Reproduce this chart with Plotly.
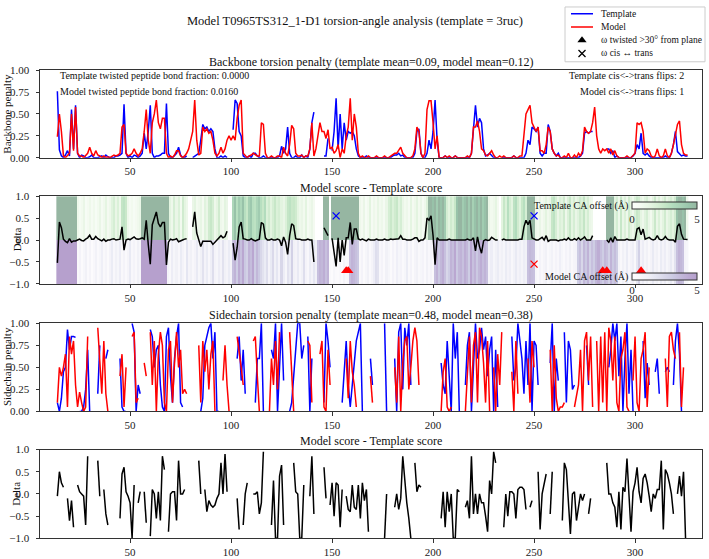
import plotly.graph_objects as go

# ---------------- data ----------------
residues = list(range(14, 327))
x_ticks = [50, 100, 150, 200, 250, 300]

bb_template = [
    0.76, 0.09, 0.02, 0.00, 0.03, 0.08, 0.02, 0.55, 0.10, 0.60,
    0.05, 0.00, 0.03, 0.02, 0.00, 0.00, 0.01, 0.03, 0.00, 0.00,
    0.00, 0.01, 0.02, 0.00, 0.03, 0.01, 0.00, 0.00, 0.00, 0.02,
    0.02, 0.03, 0.05, 0.61, 0.05, 0.00, 0.02, 0.00, 0.03, 0.02,
    0.00, 0.02, 0.05, 0.28, 0.10, 0.30, 0.60, 0.05, 0.00, 0.02,
    0.02, 0.03, 0.05, 0.05, 0.62, 0.05, 0.00, 0.00, 0.02, 0.05,
    0.12, 0.03, 0.00, 0.00, 0.02, None, None, 0.00, 0.02, 0.04,
    0.05, 0.20, 0.38, 0.33, 0.35, 0.30, 0.33, 0.30, 0.10, 0.00,
    0.00, 0.02, 0.00, 0.02, 0.00, None, None, 0.32, 0.66, 0.62,
    0.30, 0.25, 0.02, 0.00, 0.00, 0.02, 0.00, 0.05, 0.05, 0.02,
    0.00, 0.00, 0.02, 0.00, 0.00, 0.00, 0.00, 0.00, 0.00, 0.00,
    0.02, 0.13, 0.05, 0.10, 0.35, 0.05, 0.00, 0.00, 0.02, 0.00,
    0.00, 0.03, 0.00, 0.02, 0.00, 0.10, 0.40, 0.52, None, None,
    None, None, 0.02, 0.02, 0.22, None, 0.08, 0.30, 0.68, 0.10,
    0.50, 0.10, 0.40, 0.20, 0.30, 0.28, 0.30, 0.25, 0.10, 0.02,
    0.00, 0.00, 0.00, 0.02, 0.00, 0.00, 0.00, 0.00, 0.00, 0.00,
    0.00, 0.00, 0.00, 0.00, 0.00, 0.00, 0.02, 0.03, 0.03, 0.05,
    0.02, 0.03, 0.00, 0.00, 0.00, 0.00, 0.00, 0.05, 0.30, 0.33,
    0.05, 0.00, 0.00, 0.05, 0.20, 0.10, 0.30, 0.66, 0.20, 0.00,
    0.00, 0.00, 0.02, 0.00, 0.00, 0.00, 0.00, 0.02, 0.00, 0.00,
    0.00, 0.00, 0.00, 0.00, 0.00, 0.05, 0.30, 0.60, 0.35, 0.45,
    0.40, 0.10, 0.02, 0.03, 0.05, 0.02, 0.00, 0.00, 0.00, None,
    0.00, 0.00, 0.00, 0.00, 0.00, 0.00, 0.02, 0.00, 0.00, 0.00,
    0.00, 0.00, 0.05, 0.20, 0.15, 0.35, 0.33, 0.30, 0.35, 0.05,
    0.02, 0.05, 0.05, 0.38, 0.30, 0.10, 0.05, 0.02, 0.05, 0.00,
    0.00, 0.00, 0.00, 0.00, 0.00, 0.00, 0.00, 0.00, 0.00, 0.02,
    0.05, 0.28, 0.30, 0.28, 0.30, 0.30, None, None, None, None,
    None, None, 0.10, 0.10, 0.05, 0.08, 0.00, 0.02, 0.00, 0.00,
    0.00, 0.00, 0.00, 0.00, 0.00, 0.02, 0.05, 0.15, 0.10, 0.28,
    0.05, 0.03, 0.05, 0.02, 0.00, 0.00, 0.00, 0.00, 0.00, 0.00,
    0.00, 0.02, 0.00, 0.00, 0.05, 0.15, 0.30, 0.07, 0.05, 0.02,
    0.03, 0.02, 0.02,
]

bb_model = [
    0.24, 0.50, 0.30, 0.02, 0.00, 0.02, 0.05, 0.50, 0.08, 0.58,
    0.05, 0.02, 0.02, 0.00, 0.02, 0.05, 0.12, 0.05, 0.02, 0.08,
    0.03, 0.02, 0.00, 0.02, 0.00, 0.01, 0.00, 0.02, 0.03, 0.02,
    0.03, 0.05, 0.35, 0.38, 0.05, 0.02, 0.03, 0.05, 0.10, 0.05,
    0.02, 0.05, 0.10, 0.30, 0.55, 0.20, 0.05, 0.40, 0.50, 0.66,
    0.40, 0.33, 0.45, 0.45, 0.05, 0.00, 0.02, 0.00, 0.03, 0.08,
    0.08, 0.02, 0.00, 0.02, 0.05, 0.10, 0.20, 0.30, 0.66, 0.20,
    0.03, 0.05, 0.35, 0.30, 0.33, 0.28, 0.30, 0.20, 0.05, 0.02,
    0.05, 0.12, 0.05, 0.10, 0.20, 0.25, 0.20, 0.25, 0.20, 0.45,
    0.60, 0.66, 0.05, 0.02, 0.00, 0.02, 0.03, 0.05, 0.03, 0.02,
    0.02, 0.40, 0.38, 0.05, 0.00, 0.00, 0.02, 0.00, 0.00, 0.02,
    0.02, 0.00, 0.12, 0.05, 0.02, 0.15, 0.37, 0.33, 0.05, 0.02,
    0.02, 0.03, 0.00, 0.02, 0.02, 0.10, 0.40, 0.02, 0.10, 0.25,
    0.40, 0.30, 0.30, 0.22, 0.32, 0.10, 0.12, 0.05, 0.08, 0.15,
    0.00, 0.10, 0.05, 0.25, 0.35, 0.68, 0.20, 0.50, 0.35, 0.05,
    0.00, 0.02, 0.00, 0.00, 0.02, 0.00, 0.00, 0.00, 0.02, 0.00,
    0.00, 0.00, 0.02, 0.00, 0.00, 0.02, 0.03, 0.05, 0.05, 0.08,
    0.12, 0.05, 0.02, 0.00, 0.00, 0.00, 0.02, 0.10, 0.35, 0.30,
    0.05, 0.00, 0.05, 0.55, 0.65, 0.65, 0.40, 0.10, 0.25, 0.00,
    0.00, 0.00, 0.02, 0.00, 0.02, 0.00, 0.00, 0.02, 0.00, 0.00,
    0.00, 0.00, 0.00, 0.02, 0.00, 0.05, 0.35, 0.35, 0.42, 0.30,
    0.10, 0.08, 0.03, 0.02, 0.05, 0.08, 0.03, 0.00, 0.00, 0.02,
    0.00, 0.02, 0.00, 0.00, 0.00, 0.00, 0.02, 0.00, 0.00, 0.02,
    0.02, 0.30, 0.50, 0.55, 0.60, 0.40, 0.35, 0.30, 0.35, 0.08,
    0.08, 0.05, 0.15, 0.35, 0.30, 0.10, 0.05, 0.02, 0.03, 0.00,
    0.00, 0.02, 0.00, 0.05, 0.00, 0.00, 0.03, 0.00, 0.05, 0.02,
    0.08, 0.35, 0.30, 0.28, 0.30, 0.40, 0.58, 0.25, 0.10, 0.05,
    0.10, 0.08, 0.10, 0.05, 0.10, 0.03, 0.08, 0.02, 0.00, 0.00,
    0.00, 0.00, 0.02, 0.00, 0.00, 0.02, 0.05, 0.40, 0.38, 0.40,
    0.30, 0.05, 0.10, 0.08, 0.02, 0.00, 0.02, 0.10, 0.02, 0.00,
    0.02, 0.10, 0.02, 0.00, 0.05, 0.15, 0.25, 0.38, 0.42, 0.15,
    0.05, 0.03, 0.03,
]

ca_offset_template = [
    5, 5, 5, 5, 5, 5, 5, 5, 5, 5,
    1.0, 0.6, 0.8, 1.2, 0.5, 0.7, 1.0, 0.6, 0.9, 0.5,
    0.8, 1.2, 0.6, 0.9, 1.4, 0.7, 1.0, 1.6, 2.0, 1.2,
    1.8, 1.0, 2.6, 2.8, 2.4, 1.0, 0.6, 0.8, 0.5, 0.7,
    0.9, 1.2, 5, 5, 5, 5, 5, 5, 5, 5,
    5, 5, 5, 5, 5, 5, 1.5, 1.0, 2.0, 1.2,
    1.8, 0.8, 2.2, 1.4, 1.0, None, None, 1.2, 1.5, 0.8,
    1.0, 1.3, 0.7, 1.6, 1.2, 2.2, 2.5, 2.0, 1.0, 1.4,
    2.2, 1.0, 0.8, 1.5, 1.2, None, None, 3.5, 4.5, 3.0,
    4.0, 3.5, 4.5, 3.0, 2.5, 3.8, 4.2, 3.0, 2.8, 3.5,
    4.0, 3.0, 2.5, 3.2, 1.8, 2.2, 1.5, 2.0, 2.5, 1.8,
    2.0, 1.5, 1.2, 1.8, 2.6, 2.8, 2.4, 2.5, 2.2, 1.4,
    1.0, 1.2, 0.8, 1.5, 0.6, 0.9, 1.2, 0.7, None, None,
    None, None, 5, 5, 5, None, 5, 5, 5, 5,
    5, 5, 5, 5, 5, 5, 5, 5, 5, 5,
    1.0, 0.7, 1.2, 0.5, 0.8, 1.5, 0.6, 1.0, 0.7, 1.3,
    0.8, 1.0, 0.6, 1.2, 2.0, 2.4, 1.8, 2.2, 2.5, 1.6,
    2.0, 1.2, 0.8, 1.0, 0.6, 1.4, 0.7, 1.0, 1.5, 0.8,
    1.2, 0.6, 1.0, 1.8, 5, 5, 4.5, 5, 4.0, 5,
    4.5, 5, 4.0, 2.0, 1.5, 2.2, 1.8, 2.5, 4.5, 5,
    5, 4.0, 4.5, 5, 4.0, 5, 3.8, 4.5, 5, 4.2,
    5, 4.0, 4.5, 5, 1.2, 0.8, 1.0, 1.4, 0.7, None,
    1.5, 2.5, 1.8, 3.0, 2.0, 1.5, 2.8, 3.2, 2.2, 1.6,
    2.5, 3.0, 2.0, 5, 5, 5, 5, 1.0, 0.8, 1.2,
    0.7, 1.0, 1.5, 0.9, 1.2, 2.5, 2.8, 2.0, 1.2, 1.8,
    1.5, 2.2, 1.0, 1.8, 2.5, 1.4, 2.0, 1.2, 1.6, 2.2,
    1.8, 2.6, 1.5, 2.0, 1.2, 1.0, None, None, None, None,
    None, None, 5, 5, 5, 5, 1.5, 2.0, 1.0, 2.5,
    1.2, 1.8, 1.0, 2.2, 1.5, 1.0, 1.8, 2.5, 2.2, 1.4,
    1.0, 1.6, 2.0, 1.2, 0.8, 1.5, 2.4, 1.2, 1.8, 1.0,
    1.5, 2.2, 1.2, 1.6, 2.0, 1.5, 2.2, 4.5, 5, 5,
    4.5, 5, 1.0,
]

ca_offset_model = [
    5, 5, 5, 5, 5, 5, 5, 5, 5, 5,
    0.6, 1.0, 0.4, 0.8, 1.2, 0.5, 0.9, 0.3, 0.7, 1.1,
    0.5, 0.8, 1.3, 0.6, 0.9, 0.4, 1.0, 1.5, 0.7, 1.2,
    0.8, 1.4, 0.6, 1.0, 0.5, 0.9, 1.6, 0.7, 1.0, 0.6,
    1.2, 0.8, 5, 5, 5, 5, 5, 5, 5, 5,
    5, 5, 5, 5, 5, 1.0, 0.6, 1.4, 0.8, 1.2,
    0.7, 1.5, 1.0, 0.6, 1.8, 0.9, 1.2, 0.7, 1.0, 1.6,
    0.8, 1.2, 2.0, 1.0, 1.5, 0.7, 1.3, 2.2, 1.0, 0.8,
    1.4, 1.0, 2.0, 1.2, 0.9, 1.5, 1.0, 3.5, 4.0, 3.0,
    4.2, 3.5, 4.5, 3.2, 2.8, 4.0, 3.6, 4.5, 3.0, 3.8,
    3.2, 2.5, 2.0, 1.5, 2.2, 1.0, 1.6, 2.4, 1.2, 1.8,
    1.0, 2.5, 1.4, 0.8, 2.0, 1.5, 2.8, 1.2, 1.0, 1.6,
    0.8, 1.2, 2.2, 1.0, 0.7, 1.5, 1.0, 1.8, 1.2, 3.5,
    4.0, 3.8, 4.2, 3.5, 4.0, 0.6, 0.3, 0.8, 0.5, 0.4,
    0.7, 0.3, 0.9, 0.5, 0.6, 3.5, 4.0, 3.8, 3.5, 3.2,
    0.6, 1.0, 0.4, 0.8, 1.2, 0.5, 0.9, 1.4, 2.2, 2.0,
    0.7, 1.0, 0.5, 1.2, 0.8, 0.4, 1.0, 0.6, 1.3, 0.8,
    1.0, 0.5, 0.8, 1.5, 0.6, 1.0, 0.4, 0.9, 1.2, 0.6,
    0.8, 1.0, 0.5, 1.2, 0.7, 1.0, 0.6, 3.5, 4.0, 3.2,
    3.8, 4.2, 3.5, 2.5, 3.0, 4.0, 3.6, 4.5, 3.2, 3.8,
    4.0, 3.5, 4.2, 3.8, 3.0, 4.5, 3.5, 4.0, 3.2, 3.8,
    4.2, 3.6, 4.0, 3.5, 1.0, 1.4, 0.8, 1.2, 1.5, 0.9,
    1.2, 0.8, 1.5, 1.0, 1.3, 0.7, 1.1, 1.6, 1.0, 1.3,
    0.9, 1.4, 1.2, 3.5, 3.8, 3.6, 3.5, 0.8, 0.5, 1.0,
    0.6, 0.9, 1.2, 0.5, 0.8, 1.1, 0.6, 1.0, 0.7, 1.3,
    0.8, 0.5, 1.0, 0.7, 1.2, 0.6, 0.9, 1.0, 3.0, 3.5,
    2.5, 3.8, 3.2, 4.0, 2.8, 3.5, 3.0, 3.8, 4.2, 3.5,
    3.0, 3.8, 3.5, 2.8, 4.0, 3.2, 3.6, 3.0, 1.0, 0.6,
    1.2, 0.8, 1.5, 0.7, 1.0, 1.3, 0.6, 1.8, 2.8, 1.0,
    1.4, 0.8, 1.2, 0.6, 1.0, 1.6, 0.9, 1.2, 0.7, 1.5,
    1.0, 1.4, 0.8, 1.2, 1.6, 1.0, 2.0, 3.5, 4.0, 3.8,
    3.5, 1.0, 0.8,
]

sc_template = [
    0.10, 0.00, 0.15, 0.45, 0.50, 0.93, 0.70, 0.85, 0.85, 0.84,
    None, 0.00, 0.00, 0.05, 0.25, 0.70, 0.00, None, None, None,
    0.20, 0.75, None, None, 0.60, 0.70, None, None, None, None,
    None, 0.60, 0.05, 0.00, 0.00, None, None, 1.00, 0.90, 0.00,
    0.30, 0.20, None, None, 1.00, None, 0.93, 0.85, 0.50, 0.70,
    0.75, 0.30, 0.05, 0.00, 0.85, 0.95, 0.40, 0.10, 0.60, 0.85,
    1.00, 0.10, 0.05, None, None, None, None, None, None, None,
    None, 0.00, 0.15, 0.75, 0.85, 0.95, 1.00, 0.60, 0.90, 0.00,
    0.00, None, 0.60, None, None, None, None, None, None, 0.60,
    0.85, 0.35, 0.70, 0.20, None, None, None, None, 0.10, 0.60,
    0.60, 1.00, 0.00, None, None, None, 0.70, 0.60, 1.00, 0.00,
    0.50, 1.00, 0.35, None, None, 0.00, 0.10, 0.40, 0.70, 1.00,
    1.00, 0.60, 0.75, None, 0.85, 0.00, 0.60, None, None, None,
    None, None, 0.10, 1.00, 0.80, 0.50, None, None, None, None,
    None, 0.10, 0.45, 0.80, 0.30, 0.05, 0.30, 0.55, 0.80, 0.90,
    1.00, 0.00, None, None, None, 0.60, 0.30, None, None, None,
    None, None, 1.00, 0.00, None, None, None, 0.60, 0.00, 0.90,
    1.00, 0.25, 0.95, 0.75, 1.00, 0.30, None, None, None, None,
    None, None, None, None, None, None, None, None, None, None,
    0.55, 0.30, 0.20, 0.80, 0.40, 0.00, 1.00, 0.60, 0.90, 0.00,
    None, None, 0.30, 0.75, 0.90, 0.00, 0.50, 1.00, 0.60, 0.70,
    0.95, 0.70, 0.85, 0.40, 0.70, 0.85, 0.00, 0.70, 0.05, None,
    None, None, None, None, None, 0.85, 0.35, 0.50, 1.00, 0.80,
    0.60, 0.20, 0.80, 0.30, 1.00, 0.00, 0.80, 0.75, 0.30, None,
    None, None, None, None, 0.55, 1.00, 0.00, 0.60, 0.35, None,
    None, 0.90, 0.10, 0.80, 0.70, 0.25, 0.30, None, None, None,
    None, None, 0.75, 0.30, None, None, None, None, None, None,
    None, None, None, 0.50, 0.70, 1.00, 0.80, 1.00, 0.40, 0.85,
    0.00, 0.60, 1.00, 0.20, 0.70, 0.00, None, None, None, None,
    0.80, 0.15, 0.55, 0.30, None, None, 0.45, 0.60, 0.20, None,
    None, 0.45, 0.50, 0.45, None, 0.30, 0.80, 1.00, 0.65, 0.00,
    None, None, None,
]

sc_model = [
    0.10, 0.50, 0.40, 0.50, 0.65, 0.05, 0.85, 0.65, 0.80, 0.30,
    0.05, 0.22, 0.10, 0.00, 0.05, 0.85, None, None, None, None,
    0.95, 0.50, 0.20, 0.80, 0.20, 0.00, None, None, None, None,
    None, 0.40, 0.65, 0.05, 0.50, None, None, 0.85, 0.90, 0.10,
    0.15, None, None, 0.55, 0.40, None, 0.90, 0.30, 0.80, 0.00,
    0.65, 0.90, 0.75, 0.10, 0.00, 0.70, 0.80, 0.10, 0.55, 0.90,
    0.50, 0.70, 0.20, 0.25, 0.20, None, None, None, None, None,
    0.75, 0.10, 0.80, 0.45, 0.70, 0.25, 0.65, 0.80, 0.00, None,
    None, None, 0.35, 0.75, 0.30, 0.00, None, None, None, 0.85,
    0.70, 0.50, 0.30, None, None, None, None, 0.80, 0.85, 0.40,
    0.00, None, None, None, None, 0.00, 0.60, 0.30, 0.80, 0.25,
    0.90, None, None, None, None, 0.90, 0.35, 0.00, None, None,
    None, None, None, None, 0.80, 0.75, 0.10, None, None, None,
    0.65, 0.80, 0.05, 0.00, 0.70, 0.30, None, None, None, None,
    None, None, None, 0.60, 0.15, 0.80, 0.45, 0.30, 0.05, None,
    None, None, None, None, None, 0.40, 0.10, None, None, None,
    None, None, None, None, None, None, None, 0.50, 0.10, 0.85,
    0.00, 0.55, 0.80, 0.85, 0.25, 0.50, 0.80, 0.95, 0.80, 0.30,
    None, None, None, None, None, None, None, None, None, None,
    0.00, 0.45, 0.60, 0.05, 0.00, 0.05, None, None, None, None,
    None, None, 0.00, 0.50, 0.85, 0.10, 0.75, 0.90, 0.10, 0.95,
    0.85, 0.55, 0.10, 0.80, 0.00, None, 0.50, 0.00, 0.65, 0.30,
    0.90, None, None, None, None, 0.45, 0.00, 0.80, 0.20, None,
    None, None, None, 0.60, 0.10, 0.80, 0.50, None, None, None,
    None, None, None, None, 0.70, 0.00, 0.75, 0.15, 0.00, 0.05,
    0.05, 0.10, None, None, None, None, 0.05, 0.20, 0.30, 0.70,
    0.00, 0.80, 0.90, 0.35, 0.85, 0.05, None, 0.80, 0.00, 0.85,
    0.10, 0.90, 0.00, 0.95, 0.80, 0.35, 0.85, 0.10, 0.00, 0.60,
    0.70, 0.90, 0.05, 0.00, None, 0.35, 0.85, 0.10, 0.00, 0.60,
    0.70, 0.90, 0.05, 0.50, None, None, None, None, None, None,
    None, 0.60, 0.05, 0.85, 0.90, 0.70, 0.60, None, 0.90, 0.05,
    0.50, None, None,
]

# sidechain delta (model score - template score)
sc_delta = [
    -0.05, 0.50, 0.25, 0.15, None, -0.10, -0.60, -0.15, -0.75, None,
    0.20, 0.05, 0.00, -0.05, -0.70, 0.85, None, None, None, None,
    0.75, -0.05, None, 0.10, -0.45, -0.70, None, None, None, None,
    None, -0.55, 0.45, 0.60, 0.05, -0.05, -0.20, -1.00, 0.20, None,
    -0.20, 0.05, None, 0.05, -0.65, None, -0.95, 0.10, 0.00, -0.55,
    0.05, -0.60, 0.85, 0.55, None, -0.85, 0.00, 0.05, 0.05, -0.60,
    0.75, 0.00, 0.00, 0.10, None, None, None, None, None, None,
    0.75, 0.00, None, 0.10, -0.40, -0.15, -0.25, -0.30, -0.25, -0.10,
    0.00, 0.70, 0.00, 0.90, 0.05, None, None, None, None, -0.10,
    -0.80, None, -0.70, 0.00, 0.25, None, None, 0.00, 0.00, 0.05,
    -0.45, -0.20, 0.95, None, None, None, -0.70, 0.30, -1.00, -1.00,
    0.40, 0.65, -0.70, None, None, None, None, 0.70, 0.05, 0.00,
    -1.00, -1.00, 0.20, None, None, -0.05, 0.85, -0.45, None, None,
    None, None, 0.60, -0.10, None, -0.25, 0.25, -0.50, 0.25, 0.20,
    -0.75, 0.10, None, -0.05, -0.35, -0.40, 0.20, -0.30, -0.35, 0.20,
    -0.55, 0.25, -0.15, 0.10, -0.85, None, None, None, None, None,
    None, None, -1.00, 0.00, None, None, None, -0.30, 0.00, -0.35,
    -0.10, 0.85, 0.30, -0.20, -0.55, -1.00, None, 0.70, 0.05, 0.20,
    0.15, None, None, None, None, None, None, None, None, None,
    -0.55, 0.05, -0.75, 0.05, -0.40, 0.00, -1.00, -1.00, 0.10, 0.05,
    None, None, -0.30, -0.15, -0.55, 0.85, -0.45, 0.00, -0.45, 0.00,
    -0.20, -0.20, -0.50, -0.85, 0.30, 0.00, 0.95, 0.70, None, None,
    None, -0.75, 0.00, -0.50, 0.05, 0.05, 0.00, -0.55, 0.10, 0.15,
    0.15, 0.10, -0.35, None, -0.30, -0.15, None, None, 0.50, -0.80,
    0.00, 0.20, 0.45, None, -0.45, 0.50, None, None, None, None,
    -0.60, 0.70, 0.55, -0.10, -0.90, 0.00, 0.05, -0.60, -0.25, 0.00,
    -0.15, 0.00, None, -0.45, -0.10, None, None, None, None, None,
    None, None, 0.70, 0.00, 0.00, -0.20, -0.30, -0.75, 0.05, -0.80,
    0.15, 0.05, 0.80, 0.00, -0.85, 0.05, 0.25, 0.60, 0.05, -0.20,
    0.35, 0.45, 0.25, -0.05, -0.40, 0.00, -0.10, 0.10, 0.10, 0.75,
    -0.80, 0.55, 0.45, 0.25, 0.00, -0.45, None, 0.00, 0.40, -0.05,
    0.50, -1.00, None,
]

template_flip_res = [152, 250]
model_flip_res = [250]
template_twist_res = []
model_twist_res = [157, 158, 284, 286, 303]

for name, arr in [("bb_template", bb_template), ("bb_model", bb_model),
                  ("ca_offset_template", ca_offset_template),
                  ("ca_offset_model", ca_offset_model),
                  ("sc_template", sc_template), ("sc_model", sc_model),
                  ("sc_delta", sc_delta)]:
    assert len(arr) == len(residues), (name, len(arr))

# backbone delta = model score - template score
bb_delta = [m - t if (m is not None and t is not None) else None
            for m, t in zip(bb_model, bb_template)]

# ---------------- styling ----------------
W, H = 709, 559
FONT = "Liberation Serif"
BLUE = "#0000ff"
RED = "#ff0000"
AX = "#333333"


def px(x):
    return x / W


def py(y):
    return 1 - y / H


XDOM = [px(40), px(701.7)]
tops = [65.7, 194.3, 324.3, 453.3]
bots = [155.0, 284.0, 414.3, 544.0]
YDOM = [[py(b), py(t)] for t, b in zip(tops, bots)]
XRANGE = [5.4, 333.0]

greens = [[0.0, "#fcfefb"], [0.125, "#f5fbf3"], [0.25, "#e9f6e6"],
          [0.375, "#d9f0d7"], [0.5, "#c7e7c8"], [0.625, "#b3ddbe"],
          [0.75, "#a7d1b5"], [0.875, "#99c5ab"], [1.0, "#96b6a2"]]
purples = [[0.0, "#fefdfe"], [0.125, "#f9f8fb"], [0.25, "#f0f0f7"],
           [0.375, "#e4e5f1"], [0.5, "#d8d7e9"], [0.625, "#cccbe3"],
           [0.75, "#c3b9da"], [0.875, "#bba9d2"], [1.0, "#b6a0cd"]]

cb_common = dict(orientation="h", x=px(664.5), xanchor="center", yanchor="top",
                 len=65, lenmode="pixels", thickness=6.5, tickvals=[0, 5], ticks="",
                 tickfont=dict(family=FONT, size=11, color="#222"),
                 outlinewidth=1, outlinecolor=AX, xpad=0, ypad=0)

fig = go.Figure()

# Panel 1: backbone penalty
fig.add_trace(go.Scatter(x=residues, y=bb_template, mode="lines",
                         line=dict(color=BLUE, width=1.5), xaxis="x", yaxis="y",
                         name="Template"))
fig.add_trace(go.Scatter(x=residues, y=bb_model, mode="lines",
                         line=dict(color=RED, width=1.5), xaxis="x", yaxis="y",
                         name="Model"))

# Panel 2: CA offset bands + delta
fig.add_trace(go.Heatmap(x=residues, y=[0, 1], z=[ca_offset_template],
                         colorscale=greens, zmin=0, zmax=5, xaxis="x2", yaxis="y2",
                         hoverinfo="skip", colorbar=dict(cb_common, y=py(200.0))))
fig.add_trace(go.Heatmap(x=residues, y=[-1, 0], z=[ca_offset_model],
                         colorscale=purples, zmin=0, zmax=5, xaxis="x2", yaxis="y2",
                         hoverinfo="skip", colorbar=dict(cb_common, y=py(273.0))))
fig.add_trace(go.Scatter(x=residues, y=bb_delta, mode="lines",
                         line=dict(color="black", width=1.5), xaxis="x2", yaxis="y2"))
fig.add_trace(go.Scatter(x=template_flip_res, y=[0.55] * len(template_flip_res),
                         mode="markers", xaxis="x2", yaxis="y2",
                         marker=dict(symbol="x-thin", size=7, color=BLUE,
                                     line=dict(color=BLUE, width=1.3))))
fig.add_trace(go.Scatter(x=model_flip_res, y=[-0.55] * len(model_flip_res),
                         mode="markers", xaxis="x2", yaxis="y2",
                         marker=dict(symbol="x-thin", size=7, color=RED,
                                     line=dict(color=RED, width=1.3))))
fig.add_trace(go.Scatter(x=model_twist_res, y=[-0.7] * len(model_twist_res),
                         mode="markers", xaxis="x2", yaxis="y2",
                         marker=dict(symbol="triangle-up", size=9, color=RED)))

# Panel 3: sidechain penalty
fig.add_trace(go.Scatter(x=residues, y=sc_template, mode="lines",
                         line=dict(color=BLUE, width=1.5), xaxis="x3", yaxis="y3"))
fig.add_trace(go.Scatter(x=residues, y=sc_model, mode="lines",
                         line=dict(color=RED, width=1.5), xaxis="x3", yaxis="y3"))

# Panel 4: sidechain delta
fig.add_trace(go.Scatter(x=residues, y=sc_delta, mode="lines",
                         line=dict(color="black", width=1.5), xaxis="x4", yaxis="y4"))

# Legend glyphs (overlay axis measured in pixels)
fig.add_trace(go.Scatter(x=[571, 593], y=[8, 8], mode="lines", xaxis="x5", yaxis="y5",
                         line=dict(color=BLUE, width=1.5), hoverinfo="skip"))
fig.add_trace(go.Scatter(x=[571, 593], y=[21.5, 21.5], mode="lines", xaxis="x5", yaxis="y5",
                         line=dict(color=RED, width=1.5), hoverinfo="skip"))
fig.add_trace(go.Scatter(x=[582], y=[35], mode="markers", xaxis="x5", yaxis="y5",
                         marker=dict(symbol="triangle-up", size=8, color="black"),
                         hoverinfo="skip"))
fig.add_trace(go.Scatter(x=[582], y=[48.5], mode="markers", xaxis="x5", yaxis="y5",
                         marker=dict(symbol="x-thin", size=7,
                                     line=dict(color="black", width=1.3)),
                         hoverinfo="skip"))

tickfont = dict(family=FONT, size=11, color="#222")


def xax(anchor):
    return dict(domain=XDOM, range=XRANGE, anchor=anchor, tickvals=x_ticks,
                ticks="outside", ticklen=3.5, tickwidth=1, tickcolor=AX,
                showline=True, linecolor=AX, linewidth=1, mirror=True,
                showgrid=False, zeroline=False, tickfont=tickfont)


def yax(i, rng, tv, fmt):
    return dict(domain=YDOM[i], range=rng, anchor="x" if i == 0 else f"x{i+1}",
                tickvals=tv, tickformat=fmt, ticklabelstandoff=4,
                ticks="outside", ticklen=3.5, tickwidth=1, tickcolor=AX,
                showline=True, linecolor=AX, linewidth=1, mirror=True,
                showgrid=False, zeroline=False, tickfont=tickfont)


pen_ticks = [0, 0.25, 0.5, 0.75, 1.0]
dl_ticks = [-1, -0.5, 0, 0.5, 1]

annotations = []


def txt(x, y, s, size=10, xanchor="left", angle=0):
    annotations.append(dict(x=px(x), y=py(y), xref="paper", yref="paper", text=s,
                            showarrow=False, xanchor=xanchor, yanchor="middle",
                            textangle=angle,
                            font=dict(family=FONT, size=size, color="#111")))


txt(354.5, 15, "Model T0965TS312_1-D1 torsion-angle analysis (template = 3ruc)", 12.5, "center")
txt(371, 57.5, "Backbone torsion penalty (template mean=0.09, model mean=0.12)", 12, "center")
txt(371, 186.5, "Model score - Template score", 12, "center")
txt(371, 316, "Sidechain torsion penalty (template mean=0.48, model mean=0.38)", 12, "center")
txt(371, 445, "Model score - Template score", 12, "center")

txt(7, 110, "Backbone penalty", 11, "center", -90)
txt(16.5, 239, "Delta", 11, "center", -90)
txt(7, 369, "Sidechain penalty", 11, "center", -90)
txt(16.5, 499, "Delta", 11, "center", -90)

tw_frac_t = len(template_twist_res) / len(residues)
tw_frac_m = len(model_twist_res) / len(residues)
txt(58, 71, f"Template twisted peptide bond fraction: {tw_frac_t:.4f}", 10)
txt(58, 87, f"Model twisted peptide bond fraction: {tw_frac_m:.4f}", 10)
txt(686, 71, f"Template cis<->trans flips: {len(template_flip_res)}", 10, "right")
txt(686, 87, f"Model cis<->trans flips: {len(model_flip_res)}", 10, "right")

txt(630, 204, "Template CA offset (Å)", 10, "right")
txt(630, 276.5, "Model CA offset (Å)", 10, "right")

txt(599, 8, "Template", 9.5)
txt(599, 21.5, "Model", 9.5)
txt(599, 35, "ω twisted >30° from plane", 9.5)
txt(599, 48.5, "ω cis ↔ trans", 9.5)

shapes = [dict(type="rect", xref="paper", yref="paper", x0=px(565), x1=px(705),
               y0=py(57), y1=py(1), line=dict(color="#cccccc", width=1),
               fillcolor="rgba(255,255,255,0.8)", layer="below")]

fig.update_layout(
    width=W, height=H, margin=dict(l=0, r=0, t=0, b=0),
    paper_bgcolor="white", plot_bgcolor="white",
    font=dict(family=FONT, size=11, color="#222"),
    showlegend=False,
    xaxis=xax("y"), xaxis2=xax("y2"), xaxis3=xax("y3"), xaxis4=xax("y4"),
    yaxis=yax(0, [0, 1], pen_ticks, ".2f"),
    yaxis2=yax(1, [-1, 1], dl_ticks, ".1f"),
    yaxis3=yax(2, [0, 1], pen_ticks, ".2f"),
    yaxis4=yax(3, [-1, 1], dl_ticks, ".1f"),
    xaxis5=dict(domain=[px(565), px(705)], range=[565, 705], anchor="y5", visible=False),
    yaxis5=dict(domain=[py(57), py(1)], range=[57, 1], anchor="x5", visible=False),
    annotations=annotations, shapes=shapes,
)

fig.write_html("out.html", config={"displayModeBar": False},
               post_script="document.body.style.margin='0';"
                           "document.body.style.overflow='hidden';")
